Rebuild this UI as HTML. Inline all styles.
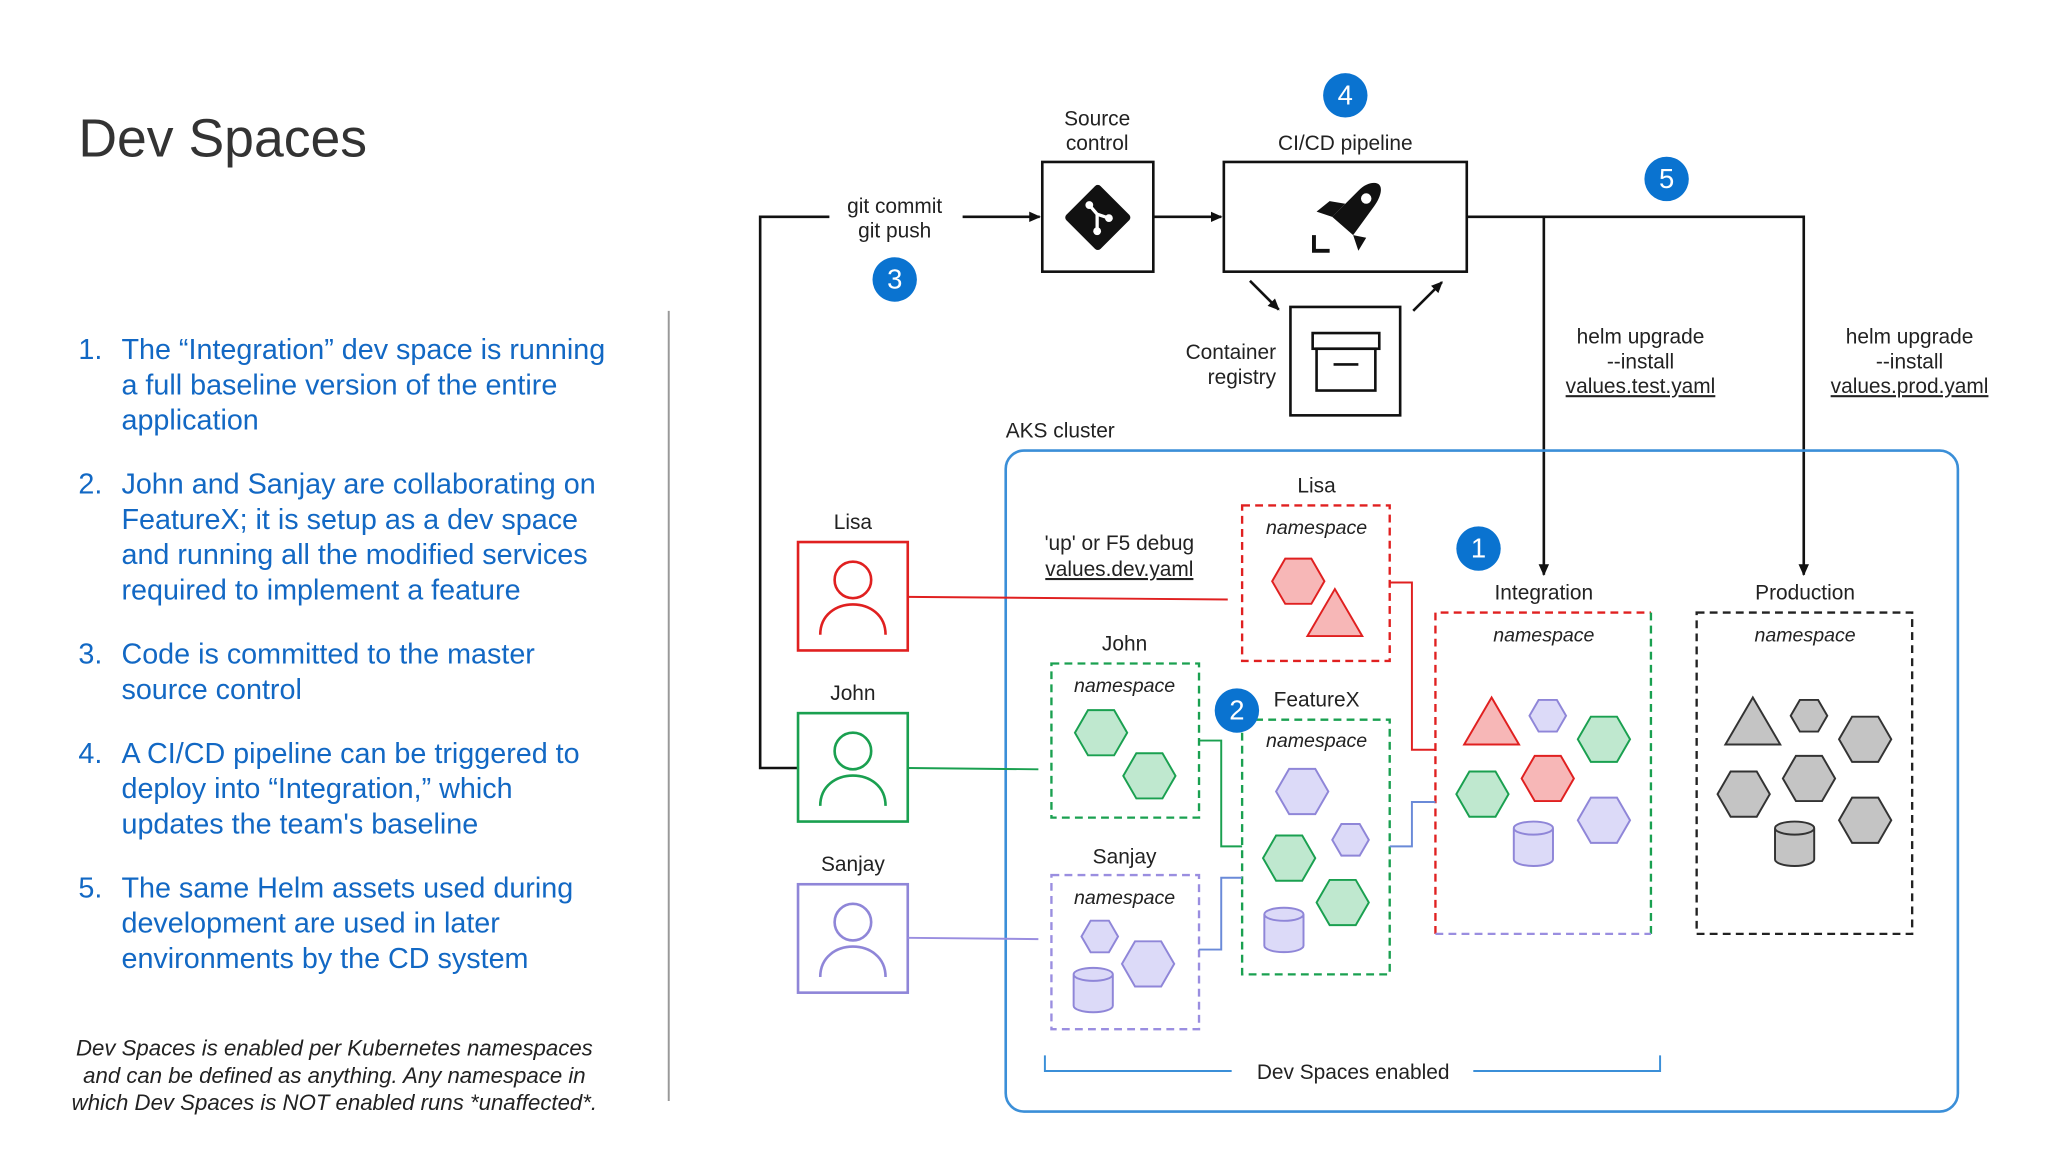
<!DOCTYPE html>
<html><head><meta charset="utf-8"><style>
html,body{margin:0;padding:0;background:#fff;}
svg{display:block;font-family:"Liberation Sans",sans-serif;}
.t{font-size:16px;fill:#222;text-anchor:middle;}
.li{font-size:22px;fill:#1268c4;}
.b{fill:#0a73d0;}
.bt{fill:#fff;font-size:21px;text-anchor:middle;}
.ns{font-size:15px;font-style:italic;fill:#222;text-anchor:middle;}
</style></head><body>
<svg id="s" width="2048" height="1152" viewBox="0 0 1568 882" xmlns="http://www.w3.org/2000/svg">
<defs><marker id="a" markerWidth="10" markerHeight="10" refX="8" refY="5" orient="auto" markerUnits="userSpaceOnUse"><path d="M0,1 L9,5 L0,9 z" fill="#111"/></marker></defs>
<rect width="1568" height="882" fill="#fff"/>
<text x="60" y="120" font-size="41" fill="#333">Dev Spaces</text>
<g class="li">
<text x="60" y="275">1.</text><text x="93" y="275">The “Integration” dev space is running</text><text x="93" y="302">a full baseline version of the entire</text><text x="93" y="329">application</text>
<text x="60" y="378">2.</text><text x="93" y="378">John and Sanjay are collaborating on</text><text x="93" y="405">FeatureX; it is setup as a dev space</text><text x="93" y="432">and running all the modified services</text><text x="93" y="459">required to implement a feature</text>
<text x="60" y="508">3.</text><text x="93" y="508">Code is committed to the master</text><text x="93" y="535">source control</text>
<text x="60" y="584">4.</text><text x="93" y="584">A CI/CD pipeline can be triggered to</text><text x="93" y="611">deploy into “Integration,” which</text><text x="93" y="638">updates the team's baseline</text>
<text x="60" y="687">5.</text><text x="93" y="687">The same Helm assets used during</text><text x="93" y="714">development are used in later</text><text x="93" y="741">environments by the CD system</text>
</g>
<g font-size="17" font-style="italic" fill="#222" text-anchor="middle">
<text x="256" y="808">Dev Spaces is enabled per Kubernetes namespaces</text>
<text x="256" y="829">and can be defined as anything. Any namespace in</text>
<text x="256" y="850">which Dev Spaces is NOT enabled runs *unaffected*.</text>
</g>
<line x1="512" y1="238" x2="512" y2="843" stroke="#999" stroke-width="1.5"/>

<rect x="798" y="124" width="85" height="84" fill="#fff" stroke="#111" stroke-width="2"/>
<text class="t" x="840" y="96">Source</text><text class="t" x="840" y="115">control</text>
<rect x="937" y="124" width="186" height="84" fill="#fff" stroke="#111" stroke-width="2"/>
<text class="t" x="1030" y="115">CI/CD pipeline</text>
<rect x="988" y="235" width="84" height="83" fill="#fff" stroke="#111" stroke-width="2"/>
<text class="t" x="977" y="275" style="text-anchor:end">Container</text>
<text class="t" x="977" y="294" style="text-anchor:end">registry</text>
<rect x="822" y="148" width="37" height="37" transform="rotate(45 840.5 166.5)" fill="#111" rx="3"/>
<circle cx="834" cy="157" r="3" fill="#fff"/><circle cx="840" cy="177" r="3" fill="#fff"/><circle cx="849" cy="167" r="3" fill="#fff"/>
<path d="M834,157 L840,164 L840,177 M840,164 L849,167" stroke="#fff" stroke-width="2.5" fill="none"/>
<path d="M1052,140 C1060,140 1058,150 1052,158 L1036,180 L1020,166 L1040,146 C1044,142 1048,140 1052,140 z" fill="#111"/>
<circle cx="1046" cy="152" r="4" fill="#fff"/>
<path d="M1020,166 L1008,162 L1018,154 L1030,156 z M1036,180 L1040,192 L1046,182 z" fill="#111"/>
<path d="M1006,180 L1006,192 L1018,192" stroke="#111" stroke-width="3" fill="none"/>
<rect x="1005" y="255" width="51" height="12" fill="none" stroke="#111" stroke-width="2"/>
<rect x="1008" y="267" width="45" height="32" fill="none" stroke="#111" stroke-width="2"/>
<line x1="1021" y1="279" x2="1040" y2="279" stroke="#111" stroke-width="2"/>

<g stroke="#111" stroke-width="2" fill="none">
<path d="M611,588 L582,588 L582,166 L635,166"/>
<line x1="737" y1="166" x2="796" y2="166" marker-end="url(#a)"/>
<line x1="883" y1="166" x2="935" y2="166" marker-end="url(#a)"/>
<path d="M1123,166 L1381,166 L1381,440" marker-end="url(#a)"/>
<line x1="1182" y1="166" x2="1182" y2="440" marker-end="url(#a)"/>
<line x1="957" y1="215" x2="979" y2="237" marker-end="url(#a)"/>
<line x1="1082" y1="238" x2="1104" y2="216" marker-end="url(#a)"/>
</g>
<text class="t" x="685" y="163">git commit</text><text class="t" x="685" y="182">git push</text>
<text class="t" x="1256" y="263">helm upgrade</text><text class="t" x="1256" y="282">--install</text><text class="t" x="1256" y="301" text-decoration="underline">values.test.yaml</text>
<text class="t" x="1462" y="263">helm upgrade</text><text class="t" x="1462" y="282">--install</text><text class="t" x="1462" y="301" text-decoration="underline">values.prod.yaml</text>

<text class="t" x="770" y="335" style="text-anchor:start">AKS cluster</text>
<rect x="770" y="345" width="729" height="506" rx="14" fill="none" stroke="#3b8fd8" stroke-width="2"/>

<g id="people"></g>
<text class="t" x="653" y="405">Lisa</text><text class="t" x="653" y="536">John</text><text class="t" x="653" y="667">Sanjay</text>
<line x1="695" y1="457" x2="940" y2="459" stroke="#e02020" stroke-width="1.5"/>
<line x1="695" y1="588" x2="795" y2="589" stroke="#1aa050" stroke-width="1.5"/>
<line x1="695" y1="718" x2="795" y2="719" stroke="#9a8ee0" stroke-width="1.5"/>
<text class="t" x="857" y="421">'up' or F5 debug</text><text class="t" x="857" y="441" text-decoration="underline">values.dev.yaml</text>

<g fill="none" stroke-width="1.8" stroke-dasharray="6,4">
<rect x="951" y="387" width="113" height="119" stroke="#e02020"/>
<rect x="805" y="508" width="113" height="118" stroke="#1aa050"/>
<rect x="951" y="551" width="113" height="195" stroke="#1aa050"/>
<rect x="805" y="670" width="113" height="118" stroke="#9a8ee0"/>
<path d="M1099,715 L1099,469 L1264,469" stroke="#e02020"/>
<path d="M1264,469 L1264,715" stroke="#1aa050"/>
<path d="M1099,715 L1264,715" stroke="#9a8ee0"/>
<rect x="1299" y="469" width="165" height="246" stroke="#222"/>
</g>
<text class="t" x="1008" y="377">Lisa</text><text class="ns" x="1008" y="409">namespace</text>
<text class="t" x="861" y="498">John</text><text class="ns" x="861" y="530">namespace</text>
<text class="t" x="1008" y="541">FeatureX</text><text class="ns" x="1008" y="572">namespace</text>
<text class="t" x="861" y="661">Sanjay</text><text class="ns" x="861" y="692">namespace</text>
<text class="t" x="1182" y="459">Integration</text><text class="ns" x="1182" y="491">namespace</text>
<text class="t" x="1382" y="459">Production</text><text class="ns" x="1382" y="491">namespace</text>
<g fill="none" stroke-width="1.5">
<path d="M1064,446 L1081,446 L1081,574 L1099,574" stroke="#e02020"/>
<path d="M918,567 L935,567 L935,648 L951,648" stroke="#1aa050"/>
<path d="M1064,648 L1081,648 L1081,614 L1099,614" stroke="#6a8ad8"/>
<path d="M918,727 L935,727 L935,672 L951,672" stroke="#6a8ad8"/>
<path d="M800,808 L800,820 L943,820 M1128,820 L1271,820 L1271,808" stroke="#3b8fd8"/>
</g>
<text class="t" x="1036" y="826">Dev Spaces enabled</text>
<g id="shapes"></g>
<g id="badges"></g>
</svg>
<script>
var NS="http://www.w3.org/2000/svg",sh=document.getElementById("shapes");
function el(t,a,p){var e=document.createElementNS(NS,t);for(var k in a)e.setAttribute(k,a[k]);(p||sh).appendChild(e);return e;}
var C={r:["#f7b7b7","#e02020"],g:["#bfe8cf","#1aa050"],p:["#dcdaf8","#8f86d8"],k:["#c4c4c4","#333"]};
function hex(x,y,r,c){var p=[];for(var i=0;i<6;i++){var a=Math.PI/3*i;p.push((x+r*Math.cos(a)).toFixed(1)+","+(y+r*Math.sin(a)).toFixed(1));}el("polygon",{points:p.join(" "),fill:C[c][0],stroke:C[c][1],"stroke-width":1.5});}
function tri(x,y,c){el("polygon",{points:(x)+","+(y-19)+" "+(x-21)+","+(y+17)+" "+(x+21)+","+(y+17),fill:C[c][0],stroke:C[c][1],"stroke-width":1.5});}
function cyl(x,y,c){el("path",{d:"M"+(x-15)+","+(y-12)+" L"+(x-15)+","+(y+12)+" A15,5 0 0 0 "+(x+15)+","+(y+12)+" L"+(x+15)+","+(y-12)+" A15,5 0 0 0 "+(x-15)+","+(y-12)+" A15,5 0 0 0 "+(x+15)+","+(y-12),fill:C[c][0],stroke:C[c][1],"stroke-width":1.5});}
hex(994,445,20,"r");tri(1022,470,"r");
hex(843,561,20,"g");hex(880,594,20,"g");
hex(997,606,20,"p");hex(1034,643,14,"p");hex(987,657,20,"g");hex(1028,691,20,"g");cyl(983,712,"p");
hex(842,717,14,"p");hex(879,738,20,"p");cyl(837,758,"p");
function env(dx,cs){tri(1142+dx,553,cs[0]);hex(1185+dx,548,14,cs[1]);hex(1228+dx,566,20,cs[2]);hex(1185+dx,596,20,cs[3]);hex(1135+dx,608,20,cs[4]);hex(1228+dx,628,20,cs[5]);cyl(1174+dx,646,cs[6]);}
env(0,["r","p","g","r","g","p","p"]);env(200,["k","k","k","k","k","k","k"]);
var pg=document.getElementById("people");
[[415,"r"],[546,"g"],[677,"p"]].forEach(function(q){var y=q[0],c=C[q[1]][1];
el("rect",{x:611,y:y,width:84,height:83,fill:"#fff",stroke:c,"stroke-width":2},pg);
el("circle",{cx:653,cy:y+29,r:14,fill:"none",stroke:c,"stroke-width":2},pg);
el("path",{d:"M628,"+(y+71)+" C628,"+(y+40)+" 678,"+(y+40)+" 678,"+(y+71),fill:"none",stroke:c,"stroke-width":2},pg);});
var bg=document.getElementById("badges");
[[1030,73,"4"],[1276,137,"5"],[685,214,"3"],[1132,420,"1"],[947,544,"2"]].forEach(function(b){
el("circle",{cx:b[0],cy:b[1],r:17,fill:"#0a73d0"},bg);var t=el("text",{x:b[0],y:b[1]+7,"class":"bt"},bg);t.textContent=b[2];});
</script>
</body></html>
